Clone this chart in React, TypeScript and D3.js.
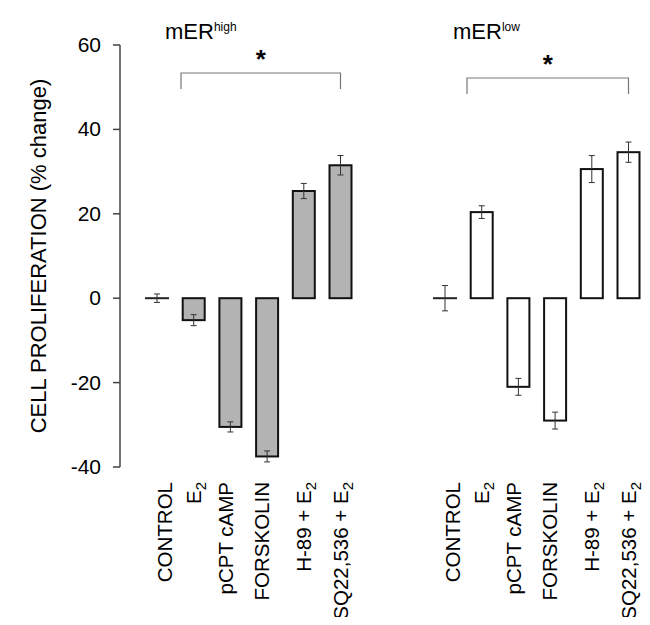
import * as d3 from 'd3'

const categories = ['CONTROL', 'E2', 'pCPT cAMP', 'FORSKOLIN', 'H-89 + E2', 'SQ22,536 + E2']
const labelShift = [8, 0, -5, -5, 0, 0]
const highValues = [0, -5.2, -30.5, -37.5, 25.4, 31.5]
const highErrors = [1, 1.3, 1.2, 1.3, 1.8, 2.3]
const lowValues = [0, 20.4, -21, -29, 30.6, 34.6]
const lowErrors = [3, 1.5, 2, 2, 3.2, 2.4]
const yTicks = [-40, -20, 0, 20, 40, 60]

const y = d3.scaleLinear([-40, 60], [467, 45])
const step = 36.7
const bw = 22
const font = 'Arial, "Liberation Sans", sans-serif'
const lfs = 20.5

function Label({ text, x }: { text: string; x: number }) {
  const sub = text.endsWith('E2')
  const main = sub ? text.slice(0, -1) : text
  return (
    <text transform={`translate(${x + lfs * 0.36},482) rotate(-90)`} textAnchor="end" fontSize={lfs}>
      {main}
      {sub && <tspan fontSize={15} dy={5}>2</tspan>}
    </text>
  )
}

function Group({ x0, vals, errs, fill, sup, bx0, by, starY }: any) {
  const x = (i: number) => x0 + i * step
  return (
    <g>
      <text x={x(0) + 8} y={39} fontSize={22}>mER<tspan fontSize={12} dy={-8}>{sup}</tspan></text>
      <path d={`M${bx0},${by + 16}V${by}H${x(5)}V${by + 16}`} fill="none" stroke="#777" strokeWidth={1.2} />
      <text x={(bx0 + x(5)) / 2} y={starY} fontSize={26} textAnchor="middle" fontWeight="bold">*</text>
      {vals.map((v: number, i: number) => {
        const cx = x(i)
        const e = errs[i]
        return (
          <g key={i}>
            {i === 0 ? (
              <line x1={cx - 12} x2={cx + 12} y1={y(0)} y2={y(0)} stroke="#222" strokeWidth={2} />
            ) : (
              <rect x={cx - bw / 2} width={bw} y={Math.min(y(v), y(0))} height={Math.abs(y(v) - y(0))}
                fill={fill} stroke="#111" strokeWidth={2} />
            )}
            <path d={`M${cx},${y(v - e)}V${y(v + e)}M${cx - 3},${y(v - e)}H${cx + 3}M${cx - 3},${y(v + e)}H${cx + 3}`}
              stroke="#333" strokeWidth={1} fill="none" />
            <Label text={categories[i]} x={cx + labelShift[i]} />
          </g>
        )
      })}
    </g>
  )
}

export default function App() {
  return (
    <svg width={650} height={625} style={{ display: 'block', margin: -8, fontFamily: font }} fontFamily={font}>
      <rect width={650} height={625} fill="#fff" />
      <line x1={120} x2={120} y1={y(60)} y2={y(-40)} stroke="#444" strokeWidth={1.5} />
      {yTicks.map((t) => (
        <g key={t}>
          <line x1={113} x2={120} y1={y(t)} y2={y(t)} stroke="#444" strokeWidth={1.5} />
          <text x={101} y={y(t) + 7} textAnchor="end" fontSize={21}>{t}</text>
        </g>
      ))}
      <text transform="translate(46,256) rotate(-90)" textAnchor="middle" fontSize={22}>CELL PROLIFERATION (% change)</text>
      <Group x0={157} vals={highValues} errs={highErrors} fill="#b3b3b3" sup="high" bx0={181} by={73} starY={68} />
      <Group x0={445} vals={lowValues} errs={lowErrors} fill="#fff" sup="low" bx0={467} by={78} starY={73} />
    </svg>
  )
}
